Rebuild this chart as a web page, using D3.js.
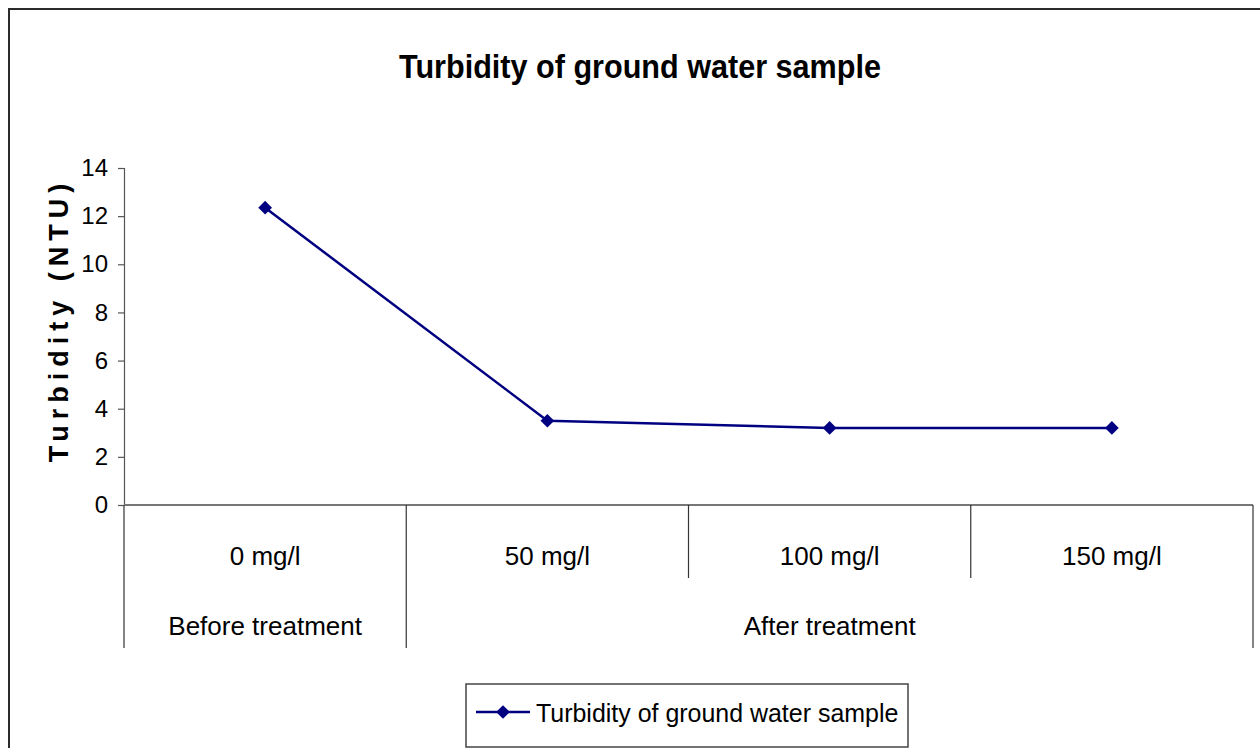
<!DOCTYPE html>
<html>
<head>
<meta charset="utf-8">
<script src="https://cdn.jsdelivr.net/npm/d3@7"></script>
<style>
  body { margin: 0; background: #fff; }
  text { font-family: "Liberation Sans", Arial, sans-serif; }
</style>
</head>
<body>
<svg id="chart" width="1260" height="748"></svg>
<script>
// data
const doses = ["0 mg/l", "50 mg/l", "100 mg/l", "150 mg/l"]
const groups = [
  {label: "Before treatment", from: 0, to: 1},
  {label: "After treatment", from: 1, to: 4}
]
const turbidity = [12.35, 3.5, 3.2, 3.2]
const yTicks = [0, 2, 4, 6, 8, 10, 12, 14]
const seriesName = "Turbidity of ground water sample"

const svg = d3.select("#chart")

// outer chart frame (runs off the right and bottom edge)
svg.append("rect")
  .attr("x", 9).attr("y", 9)
  .attr("width", 1320).attr("height", 800)
  .attr("fill", "none")
  .attr("stroke", "#2b2b2b")
  .attr("stroke-width", 2)

// plot geometry
const plotL = 124, plotR = 1253, plotT = 168, plotB = 505

const x = d3.scaleBand().domain(doses).range([plotL, plotR]).padding(0)
const y = d3.scaleLinear().domain([0, 14]).range([plotB, plotT])

// title (slightly narrow, tall lettering like the original)
svg.append("text")
  .attr("transform", "translate(640,78) scale(0.9,1)")
  .attr("text-anchor", "middle")
  .style("font-size", "34px")
  .style("font-weight", "bold")
  .text(seriesName)

// y axis
const yAxis = svg.append("g")
  .attr("transform", `translate(${plotL},0)`)
  .call(d3.axisLeft(y).tickValues(yTicks).tickSize(6).tickPadding(10).tickFormat(d3.format("d")))
yAxis.select(".domain").attr("stroke", "#555").attr("stroke-width", 1.2)
yAxis.selectAll(".tick line").attr("stroke", "#555").attr("stroke-width", 1.2)
yAxis.selectAll(".tick text")
  .style("font-size", "24px")
  .style("font-family", "'Liberation Sans', Arial, sans-serif")
  .attr("fill", "#000")

// y axis title
svg.append("text")
  .attr("transform", "translate(68,320) rotate(-90)")
  .attr("text-anchor", "middle")
  .style("font-size", "27px")
  .style("font-weight", "bold")
  .style("letter-spacing", "6px")
  .text("Turbidity (NTU)")

// category axis line at zero
svg.append("line")
  .attr("x1", plotL).attr("x2", plotR)
  .attr("y1", y(0)).attr("y2", y(0))
  .attr("stroke", "#777").attr("stroke-width", 2)

// category dividers: short ones inside a group, long ones at group edges
const rowMid = 578, rowEnd = 648
const groupEdges = new Set([0, doses.length])
groups.forEach(g => { groupEdges.add(g.from); groupEdges.add(g.to) })
d3.range(doses.length + 1).forEach(i => {
  const xx = i < doses.length ? x(doses[i]) : plotR
  svg.append("line")
    .attr("x1", xx).attr("x2", xx)
    .attr("y1", y(0)).attr("y2", groupEdges.has(i) ? rowEnd : rowMid)
    .attr("stroke", "#333").attr("stroke-width", 1.2)
})

// dose labels
svg.selectAll(".dose")
  .data(doses)
  .join("text")
  .attr("class", "dose")
  .attr("x", d => x(d) + x.bandwidth() / 2)
  .attr("y", 565)
  .attr("text-anchor", "middle")
  .style("font-size", "26px")
  .text(d => d)

// group labels
svg.selectAll(".group")
  .data(groups)
  .join("text")
  .attr("class", "group")
  .attr("x", g => {
    const x0 = x(doses[g.from])
    const x1 = g.to < doses.length ? x(doses[g.to]) : plotR
    return (x0 + x1) / 2
  })
  .attr("y", 635)
  .attr("text-anchor", "middle")
  .style("font-size", "26px")
  .text(g => g.label)

// series line
const pts = doses.map((d, i) => [x(d) + x.bandwidth() / 2, y(turbidity[i])])
svg.append("path")
  .attr("d", d3.line()(pts))
  .attr("fill", "none")
  .attr("stroke", "#000080")
  .attr("stroke-width", 2.5)

const diamond = d3.symbol().type(d3.symbolDiamond2).size(120)
svg.selectAll(".pt")
  .data(pts)
  .join("path")
  .attr("class", "pt")
  .attr("transform", p => `translate(${p[0]},${p[1]})`)
  .attr("d", diamond)
  .attr("fill", "#000080")

// legend
const lg = svg.append("g").attr("transform", "translate(466,684)")
lg.append("rect")
  .attr("width", 442).attr("height", 63)
  .attr("fill", "#fff")
  .attr("stroke", "#444").attr("stroke-width", 1.5)
lg.append("line")
  .attr("x1", 10).attr("x2", 64)
  .attr("y1", 28).attr("y2", 28)
  .attr("stroke", "#000080").attr("stroke-width", 2.5)
lg.append("path")
  .attr("transform", "translate(37,28)")
  .attr("d", diamond)
  .attr("fill", "#000080")
lg.append("text")
  .attr("transform", "translate(70,38) scale(0.96,1)")
  .style("font-size", "26px")
  .text(seriesName)
</script>
</body>
</html>
